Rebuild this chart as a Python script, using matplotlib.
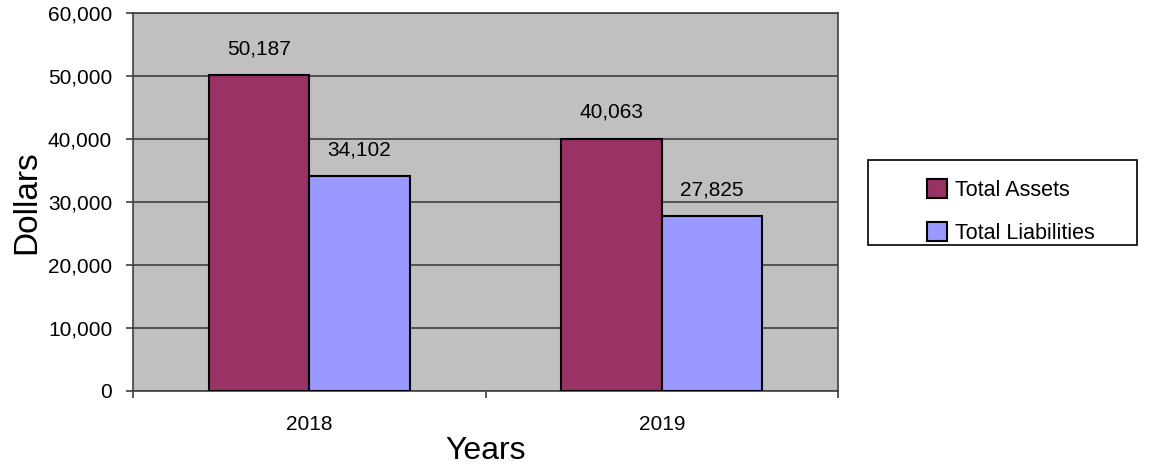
import numpy as np
import matplotlib.pyplot as plt
from matplotlib.patches import Rectangle

plt.rcParams['font.family'] = ['Liberation Sans', 'DejaVu Sans']

years = ["2018", "2019"]
total_assets = [50187, 40063]
total_liabilities = [34102, 27825]
y_ticks = [0, 10000, 20000, 30000, 40000, 50000, 60000]

fig = plt.figure(figsize=(11.5, 4.65), dpi=100)
ax = fig.add_axes([133 / 1150, 1 - 391 / 465, 705 / 1150, 378 / 465])
ax.set_facecolor('#C0C0C0')

x = np.arange(len(years))
w = 1 / 3.5
b1 = ax.bar(x - w / 2, total_assets, w, color='#993366', edgecolor='black',
            linewidth=1.5, label="Total Assets", zorder=3)
b2 = ax.bar(x + w / 2, total_liabilities, w, color='#9999FF', edgecolor='black',
            linewidth=1.5, label="Total Liabilities", zorder=3)

for bars in (b1, b2):
    for r in bars:
        ax.annotate(f"{int(r.get_height()):,}", (r.get_x() + r.get_width() / 2, r.get_height()),
                    xytext=(0, 12), textcoords='offset points', ha='center', va='bottom',
                    fontsize=15)

ax.set_xlim(-0.5, 1.5)
ax.set_ylim(0, 60000)
ax.set_yticks(y_ticks)
ax.set_yticklabels([f"{v:,}" for v in y_ticks])
ax.yaxis.grid(True, color='#404040', linewidth=1.2, zorder=1)
ax.tick_params(axis='y', length=5, width=1.2, color='#404040', pad=10, labelsize=15)

# category labels without ticks, boundary ticks as minor
ax.set_xticks(x)
ax.set_xticklabels(years)
ax.tick_params(axis='x', which='major', length=0, pad=17, labelsize=15)
ax.set_xticks([-0.5, 0.5, 1.5], minor=True)
ax.tick_params(axis='x', which='minor', length=5, width=1.2, color='#404040')

for s in ax.spines.values():
    s.set_color('#404040')
    s.set_linewidth(1.2)

ax.set_ylabel("Dollars", fontsize=24, labelpad=4)
ax.set_xlabel("Years", fontsize=23, labelpad=2)

# legend box
fig.patches.append(Rectangle((868 / 1150, 1 - 245 / 465), 269 / 1150, 85 / 465,
                             transform=fig.transFigure, facecolor='white',
                             edgecolor='black', linewidth=1.2))
fig.legend(handles=[b1, b2], loc='upper left', bbox_to_anchor=(927 / 1150, 1 - 179 / 465),
           frameon=False, fontsize=15.5, handlelength=0.95, handleheight=0.95,
           handletextpad=0.35, labelspacing=1.0, borderpad=0, borderaxespad=0)

fig.savefig("out.png", dpi=100)
